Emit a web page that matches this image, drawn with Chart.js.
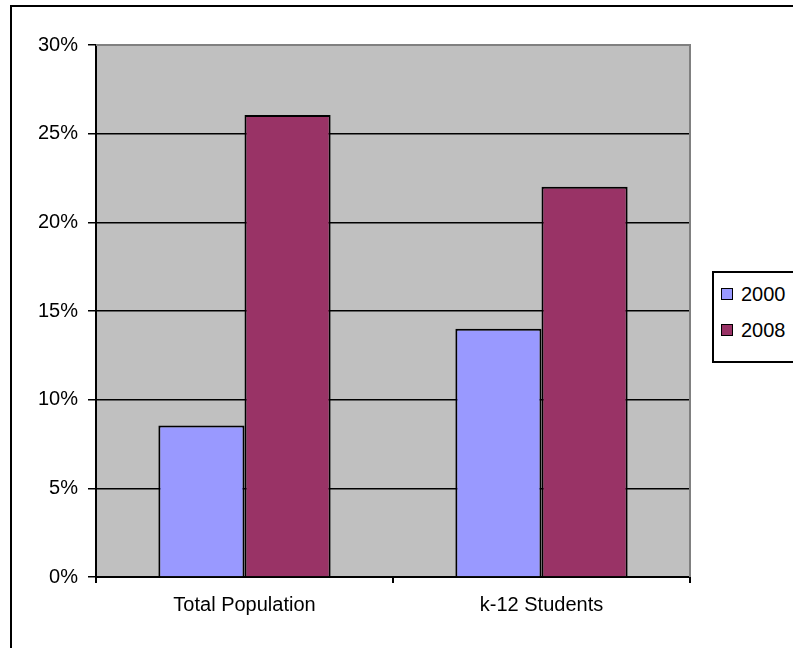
<!DOCTYPE html>
<html>
<head>
<meta charset="utf-8">
<script src="https://cdn.jsdelivr.net/npm/chart.js@4.4.0/dist/chart.umd.min.js"></script>
<style>
  body { margin: 0; background: #fff; }
  #wrap { position: relative; width: 793px; height: 648px; overflow: hidden; }
  #frame { position: absolute; left: 10px; top: 5px; width: 900px; height: 800px;
           border-left: 2px solid #000; border-top: 2px solid #000; }
  #legend { position: absolute; left: 712px; top: 271px; width: 120px; height: 88px;
            border: 2px solid #000; background: #fff;
            font-family: "Liberation Sans", Arial, sans-serif; font-size: 20px; }
  .item { position: absolute; left: 7px; line-height: 22px; }
  .sw { display: inline-block; width: 10px; height: 10px; border: 1px solid #000; margin-right: 8px; vertical-align: 1px; }
</style>
</head>
<body>
<div id="wrap">
  <div id="frame"></div>
  <canvas id="chart" width="793" height="648"></canvas>
  <div id="legend"></div>
</div>
<script>
const categories = ["Total Population", "k-12 Students"];
const years = ["2000", "2008"];
const values2000 = [8.55, 14.0];
const values2008 = [26.05, 22.0];
const colors = ["#9999ff", "#993366"];

// legend
const leg = document.getElementById("legend");
years.forEach(function (y, i) {
  const d = document.createElement("div");
  d.className = "item";
  d.style.top = (10 + i * 36) + "px";
  d.innerHTML = '<span class="sw" style="background:' + colors[i] + '"></span>' + y;
  leg.appendChild(d);
});

const plotBg = {
  id: "plotBg",
  beforeDraw(chart) {
    const a = chart.chartArea, ctx = chart.ctx;
    ctx.save();
    ctx.fillStyle = "#c0c0c0";
    ctx.fillRect(a.left, a.top, a.right - a.left, a.bottom - a.top);
    ctx.restore();
  },
  afterDatasetsDraw(chart) {
    const a = chart.chartArea, ctx = chart.ctx;
    ctx.save();
    ctx.strokeStyle = "#808080";
    ctx.lineWidth = 2;
    ctx.beginPath();
    ctx.moveTo(a.left, a.top);
    ctx.lineTo(a.right, a.top);
    ctx.lineTo(a.right, a.bottom);
    ctx.stroke();
    ctx.restore();
  }
};

const font = { family: "'Liberation Sans', Arial, sans-serif", size: 20 };

new Chart(document.getElementById("chart"), {
  type: "bar",
  data: {
    labels: categories,
    datasets: [
      { label: years[0], data: values2000, backgroundColor: colors[0], borderColor: "#000", borderWidth: 2 },
      { label: years[1], data: values2008, backgroundColor: colors[1], borderColor: "#000", borderWidth: 2 }
    ]
  },
  options: {
    responsive: false,
    animation: false,
    layout: { padding: { top: 45, right: 793 - 690, left: 0, bottom: 0 } },
    plugins: { legend: { display: false }, tooltip: { enabled: false } },
    datasets: { bar: { categoryPercentage: 0.58, barPercentage: 1.0 } },
    scales: {
      x: {
        grid: { offset: true, drawOnChartArea: false, color: "#000", lineWidth: 2, tickLength: 6 },
        border: { color: "#000", width: 2 },
        ticks: { color: "#000", font: font, padding: 10 },
        afterFit(s) { s.height = 648 - 577; }
      },
      y: {
        min: 0, max: 30,
        grid: { color: "#000", lineWidth: 1.5, tickLength: 8 },
        border: { color: "#000", width: 2 },
        ticks: { stepSize: 5, color: "#000", font: font, padding: 10,
                 callback: function (v) { return v + "%"; } },
        afterFit(s) { s.width = 96; }
      }
    }
  },
  plugins: [plotBg]
});
</script>
</body>
</html>
